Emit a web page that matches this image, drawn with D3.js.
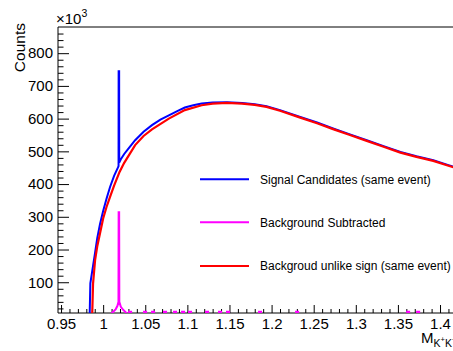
<!DOCTYPE html>
<html>
<head>
<meta charset="utf-8">
<script src="https://cdn.jsdelivr.net/npm/d3@7"></script>
<style>
  body { margin: 0; background: #fff; }
  svg { display: block; font-family: "Liberation Sans", Arial, sans-serif; }
</style>
</head>
<body>
<svg id="chart" width="453" height="351"></svg>
<script>
// values in units of 10^3 counts, mass in GeV
const signalMass = [0.9840, 0.9848, 0.9880, 0.9904, 0.9930, 0.9963, 1.0000, 1.0040, 1.0082, 1.0130, 1.0175, 1.0183,
  1.0184, 1.0190, 1.0191, 1.0210, 1.0250, 1.0300, 1.0380, 1.0480, 1.0580, 1.0680, 1.0780, 1.0880, 1.0970, 1.1070,
  1.1170, 1.1300, 1.1470, 1.1650, 1.1800, 1.1940, 1.2100, 1.2340, 1.2540, 1.2730, 1.2930, 1.3130, 1.3330, 1.3530,
  1.3720, 1.3920, 1.4100, 1.4200];
const signalCounts = [0, 97, 150, 190, 235, 278, 318, 355, 391, 425, 450, 455,
  745, 745, 466, 476, 492, 508, 534, 560, 580, 597, 610, 623, 634, 641,
  646, 649, 650, 648, 644, 638, 626, 605, 588, 570, 552, 534, 516, 498,
  485, 473, 458, 450];

const unlikeMass = [0.9870, 0.9880, 0.9904, 0.9930, 0.9963, 1.0000, 1.0040, 1.0082, 1.0130, 1.0195, 1.0250, 1.0380,
  1.0480, 1.0580, 1.0780, 1.0970, 1.1170, 1.1300, 1.1470, 1.1650, 1.1800, 1.1940, 1.2100, 1.2340, 1.2540, 1.2730,
  1.2930, 1.3130, 1.3330, 1.3530, 1.3720, 1.3920, 1.4100, 1.4200];
const unlikeCounts = [0, 95, 167, 210, 250, 295, 330, 361, 395, 437, 465, 519,
  547, 567, 600, 626, 641, 646, 648, 646, 642, 636, 624, 603, 586, 568,
  550, 532, 514, 496, 483, 471, 456, 448];

const subMass = [1.0080, 1.0120, 1.0150, 1.0170, 1.0182, 1.0184, 1.0190, 1.0192, 1.0210, 1.0240, 1.0270, 1.0300];
const subCounts = [0, 10, 18, 28, 40, 314, 314, 40, 25, 15, 8, 0];
// isolated bins just above the frame minimum
const subDotMass = [1.0320, 1.0498, 1.0593, 1.0735, 1.0854, 1.0949, 1.1032, 1.1234, 1.1388, 1.1483, 1.1863, 1.2303, 1.3621, 1.3740];
const subDotCounts = [10, 10, 10, 10, 10, 10, 10, 10, 10, 10, 10, 10, 10, 10];

const xTickLabels = ["0.95", "1", "1.05", "1.1", "1.15", "1.2", "1.25", "1.3", "1.35", "1.4"];
const yTickLabels = ["100", "200", "300", "400", "500", "600", "700", "800"];

const legendLabels = ["Signal Candidates (same event)", "Background Subtracted", "Backgroud unlike sign (same event)"];
const colors = ["#0000ff", "#ff00ff", "#ff0000"];

const svg = d3.select("#chart");
const padL = 58, padT = 27, padR = 461, padB = 313;

const x = d3.scaleLinear().domain([0.9464, 1.4249]).range([padL, padR]);
const y = d3.scaleLinear().domain([6, 880]).range([padB, padT]);

const clip = svg.append("defs").append("clipPath").attr("id", "plotclip");
clip.append("rect").attr("x", padL).attr("y", padT).attr("width", padR - padL).attr("height", padB - padT);

const xMajor = xTickLabels.map(Number);
const xMinor = d3.range(0.95, 1.421, 0.01).filter(v => !xMajor.some(m => Math.abs(m - v) < 1e-6));
const yMajor = yTickLabels.map(Number);
const yMinor = d3.range(20, 880, 20).filter(v => v % 100 !== 0);

// minor ticks first
svg.append("g").attr("transform", `translate(0,${padB})`)
  .call(d3.axisBottom(x).tickValues(xMinor).tickSize(-4).tickSizeOuter(0).tickFormat(""))
  .call(g => g.select(".domain").remove());
svg.append("g").attr("transform", `translate(${padL},0)`)
  .call(d3.axisLeft(y).tickValues(yMinor).tickSize(-5.5).tickSizeOuter(0).tickFormat(""))
  .call(g => g.select(".domain").remove());

const xAxis = svg.append("g").attr("transform", `translate(0,${padB})`)
  .call(d3.axisBottom(x).tickValues(xMajor).tickSize(-8).tickSizeOuter(0).tickPadding(5)
    .tickFormat((d, i) => xTickLabels[i]));
xAxis.select(".domain").remove();
xAxis.selectAll("text").attr("font-size", 15).attr("fill", "#000").attr("y", 5).attr("dy", "0.74em");

const yAxis = svg.append("g").attr("transform", `translate(${padL},0)`)
  .call(d3.axisLeft(y).tickValues(yMajor).tickSize(-11).tickSizeOuter(0).tickPadding(5)
    .tickFormat((d, i) => yTickLabels[i]));
yAxis.select(".domain").remove();
yAxis.selectAll("text").attr("font-size", 15).attr("fill", "#000");

// frame
svg.append("path")
  .attr("d", `M${padL},${padB}V${padT}H${padR}V${padB}Z`)
  .attr("fill", "none").attr("stroke", "#000").attr("stroke-width", 1);

const plot = svg.append("g").attr("clip-path", "url(#plotclip)");
const line = d3.line().x(d => x(d[0])).y(d => y(d[1]));

plot.append("path")
  .attr("d", line(d3.zip(signalMass, signalCounts)))
  .attr("fill", "none").attr("stroke", colors[0]).attr("stroke-width", 2);
plot.append("path")
  .attr("d", line(d3.zip(unlikeMass, unlikeCounts)))
  .attr("fill", "none").attr("stroke", colors[2]).attr("stroke-width", 2.2);

// background subtracted: peak plus isolated small bins
let subPts = d3.zip(subMass, subCounts);
subDotMass.forEach((m, i) => {
  subPts.push([m - 0.0012, 0], [m - 0.0012, subDotCounts[i]], [m + 0.0012, subDotCounts[i]], [m + 0.0012, 0]);
});
subPts.sort((a, b) => a[0] - b[0]);
plot.append("path")
  .attr("d", line(subPts))
  .attr("fill", "none").attr("stroke", colors[1]).attr("stroke-width", 2);

// axis titles
svg.append("text")
  .attr("transform", "translate(25,23) rotate(-90)")
  .attr("text-anchor", "end").attr("font-size", 15.5).text("Counts");
const mult = svg.append("text").attr("x", 56).attr("y", 24).attr("font-size", 15);
mult.append("tspan").text("\u00d710");
mult.append("tspan").attr("font-size", 10.5).attr("dy", -7).text("3");

const xt = svg.append("text").attr("x", 421).attr("y", 343).attr("font-size", 15);
xt.append("tspan").text("M");
xt.append("tspan").attr("font-size", 10.5).attr("dy", 4).text("K");
xt.append("tspan").attr("font-size", 7.5).attr("dy", -5).text("+");
xt.append("tspan").attr("font-size", 10.5).attr("dy", 5).text("K");
xt.append("tspan").attr("font-size", 7.5).attr("dy", -5).text("\u2212");

// legend
const legY = [179.3, 222.3, 266];
const leg = svg.append("g").selectAll("g").data(legendLabels).join("g")
  .attr("transform", (d, i) => `translate(0,${legY[i]})`);
leg.append("line").attr("x1", 200).attr("x2", 249)
  .attr("stroke", (d, i) => colors[i]).attr("stroke-width", 2);
leg.append("text").attr("x", 260).attr("dy", "0.35em").attr("font-size", 12).text(d => d);
</script>
</body>
</html>
